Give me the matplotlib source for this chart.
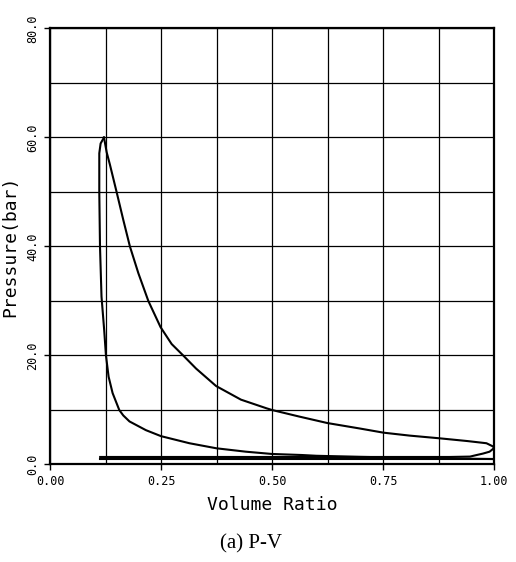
import matplotlib
matplotlib.use("Agg")
import matplotlib.pyplot as plt
import numpy as np

# compression stroke (BDC -> TDC) plus combustion rise up to the peak
comp_v = [1.0, 0.9, 0.8, 0.7, 0.6, 0.567, 0.5, 0.441, 0.375, 0.314, 0.25,
          0.216, 0.179, 0.165, 0.156, 0.141, 0.132, 0.126, 0.122, 0.116,
          0.1126, 0.111, 0.111, 0.114, 0.1216]
comp_p = [1.0, 1.1, 1.25, 1.4, 1.6, 1.74, 1.93, 2.35, 2.97, 3.9, 5.2,
          6.3, 7.9, 9.0, 10.0, 13.1, 16.1, 20.0, 24.7, 30.8,
          40.0, 50.0, 57.1, 58.9, 60.0]

# expansion stroke
exp_v = [0.1216, 0.1276, 0.135, 0.150, 0.165, 0.180, 0.199, 0.2215, 0.249,
         0.274, 0.300, 0.329, 0.374, 0.43, 0.488, 0.5, 0.561, 0.625, 0.698,
         0.751, 0.81, 0.878, 0.94, 0.983, 0.998, 1.0]
exp_p = [60.0, 57.3, 55.0, 50.0, 44.9, 40.0, 35.1, 30.0, 25.2,
         22.1, 20.0, 17.6, 14.4, 11.9, 10.3, 10.0, 8.8, 7.6, 6.6,
         5.84, 5.3, 4.8, 4.3, 3.9, 3.3, 3.0]

# blowdown + exhaust stroke
exh_v = [1.0, 0.99, 0.975, 0.961, 0.946, 0.9, 0.113]
exh_p = [3.0, 2.35, 2.0, 1.74, 1.45, 1.38, 1.38]

# intake stroke
int_v = [0.113, 1.0]
int_p = [1.02, 1.02]

x_ticks = [0.0, 0.25, 0.5, 0.75, 1.0]
y_ticks = [0.0, 20.0, 40.0, 60.0, 80.0]

fig = plt.figure(figsize=(5.16, 5.62), dpi=100)
ax = fig.add_axes([0.0969, 0.1735, 0.8605, 0.7758])

for v, p in [(comp_v, comp_p), (exp_v, exp_p), (exh_v, exh_p), (int_v, int_p)]:
    ax.plot(v, p, color="black", linewidth=1.5, zorder=3)

ax.set_xlim(0, 1)
ax.set_ylim(0, 80)
ax.set_xticks(x_ticks)
ax.set_yticks(y_ticks)
ax.set_xticks(np.arange(0, 1.0001, 0.125), minor=True)
ax.set_yticks(np.arange(0, 80.001, 10), minor=True)
ax.grid(True, which="both", color="black", linewidth=0.9)
ax.tick_params(which="minor", length=0)
ax.tick_params(which="major", length=4, width=1, direction="out", color="black")

mono = "DejaVu Sans Mono"
ax.set_xticklabels(["%.2f" % t for t in x_ticks], fontfamily=mono, fontsize=8.5)
ax.set_yticklabels(["%.1f" % t for t in y_ticks], fontfamily=mono, fontsize=8.5,
                   rotation=90, va="center")
ax.set_xlabel("Volume Ratio", fontfamily=mono, fontsize=13, labelpad=6)
ax.set_ylabel("Pressure(bar)", fontfamily=mono, fontsize=13, labelpad=5)

for s in ax.spines.values():
    s.set_linewidth(1.6)

fig.text(0.487, 0.032, "(a) P-V", fontfamily="Liberation Serif", fontsize=15,
         ha="center", va="center")

fig.savefig("out.png", dpi=100)
